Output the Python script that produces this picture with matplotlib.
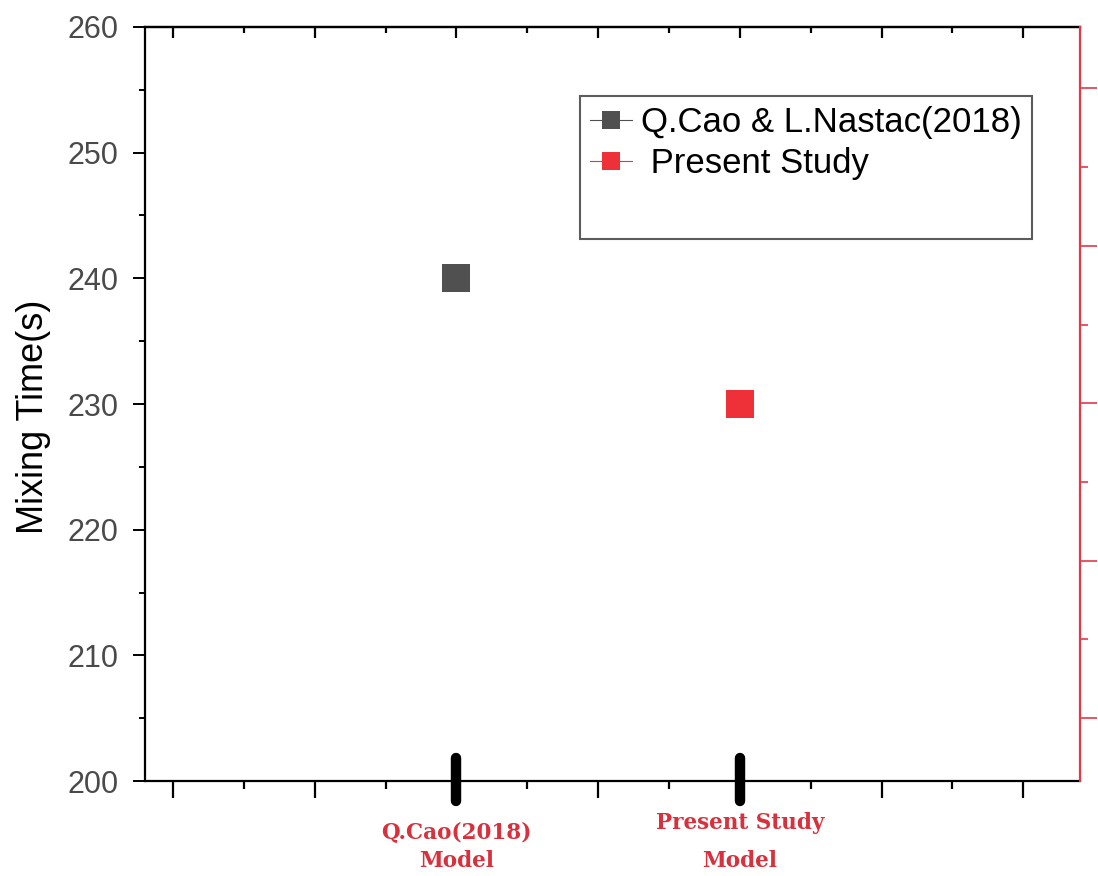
import matplotlib
matplotlib.use("Agg")
import matplotlib.pyplot as plt
from matplotlib.lines import Line2D
from matplotlib.ticker import MultipleLocator

# data
model_labels = ["Q.Cao(2018)\nModel", "Present Study\nModel"]
x_pos = [3, 5]
mixing_time = [240, 230]
series_labels = ["Q.Cao & L.Nastac(2018)", " Present Study"]
series_colors = ["#505050", "#ee3038"]

plt.rcParams['font.family'] = ['Liberation Sans', 'DejaVu Sans']

fig = plt.figure(figsize=(10.98, 8.76), dpi=100)
ax = fig.add_axes([0.132, 0.1084, 0.8516, 0.8608])

# points
handles = []
for x, y, c, lab in zip(x_pos, mixing_time, series_colors, series_labels):
    ax.plot([x], [y], 's', color=c, markersize=19.5, markeredgewidth=0)
    handles.append(Line2D([0], [0], color=c, lw=0.8, marker='s', markersize=13,
                          markeredgewidth=0, label=lab))
# empty row so the legend box has the extra space below
handles.append(Line2D([0], [0], color='none', label=' '))

ax.set_xlim(0.802, 7.40)
ax.set_ylim(200, 260)
ax.xaxis.set_major_locator(MultipleLocator(1))
ax.xaxis.set_minor_locator(MultipleLocator(0.5))
ax.yaxis.set_major_locator(MultipleLocator(10))
ax.yaxis.set_minor_locator(MultipleLocator(5))

# axes styling
for s in ['left', 'top', 'bottom']:
    ax.spines[s].set_linewidth(1.6)
ax.spines['right'].set_visible(False)
ax.tick_params(axis='y', which='major', direction='out', length=9, width=1.4,
               labelsize=22, labelcolor='#4a4a4a', pad=10)
ax.tick_params(axis='y', which='minor', direction='out', length=4.5, width=1.4)
ax.tick_params(axis='x', which='major', direction='out', length=12, width=1.6,
               labelbottom=False)
ax.tick_params(axis='x', which='minor', direction='out', length=6, width=1.6)

# top axis with inward ticks
top = ax.secondary_xaxis('top')
top.xaxis.set_major_locator(MultipleLocator(1))
top.xaxis.set_minor_locator(MultipleLocator(0.5))
top.tick_params(which='major', direction='in', length=8, width=1.6, labeltop=False)
top.tick_params(which='minor', direction='in', length=4, width=1.6)
top.spines['top'].set_linewidth(1.6)

# red right axis, no labels
red = '#e03a48'
rax = ax.twinx()
rax.set_ylim(0.6, 5.39)
rax.yaxis.set_major_locator(MultipleLocator(1))
rax.yaxis.set_minor_locator(MultipleLocator(0.5))
for s in ['left', 'top', 'bottom']:
    rax.spines[s].set_visible(False)
rax.spines['right'].set_color(red)
rax.spines['right'].set_linewidth(1.6)
rax.tick_params(axis='y', which='major', direction='out', length=12, width=1.2,
                color=red, labelright=False)
rax.tick_params(axis='y', which='minor', direction='out', length=6, width=1.2,
                color=red)

ax.set_ylabel("Mixing Time(s)", fontsize=26)
ax.yaxis.set_label_coords(-0.10, 0.483)

# thick marks and red category labels under the two models
trans = ax.get_xaxis_transform()
ax.vlines(x_pos, -0.026, 0.03, transform=trans, colors='black', lw=7.5,
          capstyle='round', clip_on=False, zorder=5)
for x, lab, ls in zip(x_pos, model_labels, [1.4, 1.95]):
    ax.text(x, -0.121, lab, transform=trans, ha='center', va='bottom',
            color='#d8303c', fontsize=15.5, fontweight='bold',
            family='DejaVu Serif', linespacing=ls)

leg = ax.legend(handles=handles, loc='upper left', bbox_to_anchor=(0.465, 0.909),
                fontsize=25, frameon=True, fancybox=False, handlelength=1.2,
                handletextpad=0.25, labelspacing=0.22, borderpad=0.3,
                borderaxespad=0)
leg.get_texts()[2].set_fontsize(32)
leg.get_frame().set_edgecolor('#333333')
leg.get_frame().set_linewidth(1.5)

fig.savefig("out.png", dpi=100)
